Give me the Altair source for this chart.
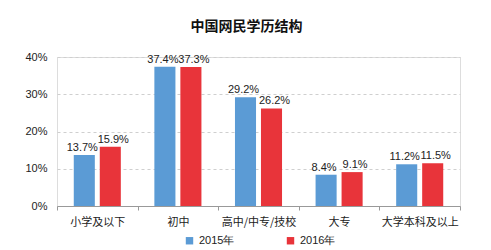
import altair as alt
import pandas as pd

categories = ["小学及以下", "初中", "高中/中专/技校", "大专", "大学本科及以上"]
series_2015 = [13.7, 37.4, 29.2, 8.4, 11.2]
series_2016 = [15.9, 37.3, 26.2, 9.1, 11.5]
years = ["2015年", "2016年"]
colors = ["#5B9BD5", "#E8343A"]

rows = []
for c, a, b in zip(categories, series_2015, series_2016):
    rows.append({"cat": c, "year": years[0], "v": a})
    rows.append({"cat": c, "year": years[1], "v": b})
df = pd.DataFrame(rows)

cn = "Noto Sans CJK SC"
num = "Liberation Sans"

x = alt.X("cat:N", sort=categories, title=None,
          scale=alt.Scale(paddingInner=0, paddingOuter=0),
          axis=alt.Axis(labelAngle=0, labelFont=cn, labelFontSize=11, labelColor="#222",
                        domainColor="#999", tickColor="#999", tickSize=4, tickBand="extent",
                        labelPadding=6, grid=False))
xo = alt.XOffset("year:N", scale=alt.Scale(domain=years, paddingInner=0.19, paddingOuter=0.645))
y = alt.Y("v:Q", title=None, scale=alt.Scale(domain=[0, 40], nice=False),
          axis=alt.Axis(values=[0, 10, 20, 30, 40], labelExpr="datum.value + '%'",
                        labelFont=num, labelFontSize=11, labelColor="#222", domain=False,
                        ticks=False, gridDash=[3, 3], gridColor="#cfcfcf", labelPadding=10))
color = alt.Color("year:N", scale=alt.Scale(domain=years, range=colors),
                  legend=alt.Legend(title=None, orient="none", direction="horizontal",
                                    legendX=127, legendY=178, symbolType="square",
                                    symbolSize=55, labelFont=num, labelFontSize=11,
                                    labelColor="#222", columnPadding=50, symbolStrokeWidth=0))

base = alt.Chart(df).encode(x=x, xOffset=xo, y=y)
bars = base.mark_bar().encode(color=color)


def label_layer(year, dx):
    return base.transform_filter(alt.datum.year == year).transform_calculate(
        lab="format(datum.v, '.1f') + '%'"
    ).mark_text(dy=-7, dx=dx, font=num, fontSize=11, color="#222").encode(text="lab:N")


chart = (bars + label_layer(years[0], -2) + label_layer(years[1], 3)).properties(
    width=403, height=149,
    title=alt.TitleParams("中国网民学历结构", font=cn, fontSize=14, fontWeight="bold",
                          color="#111", anchor="middle", dx=-12, offset=17),
    autosize=alt.AutoSizeParams(type="none"),
    padding={"left": 57, "top": 57, "right": 31, "bottom": 44},
).configure_view(stroke=None).configure(background="white")

chart.save("out.html", embed_options={"renderer": "svg", "actions": False})
